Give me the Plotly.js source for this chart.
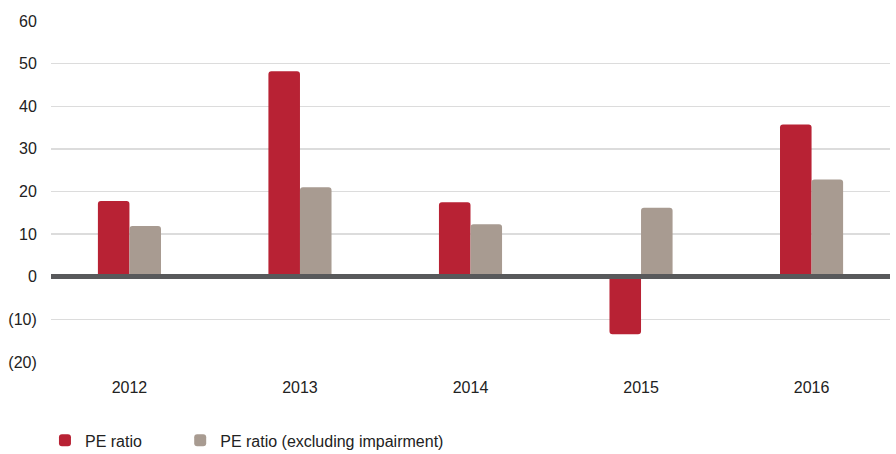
<!DOCTYPE html>
<html>
<head>
<meta charset="utf-8">
<script src="https://cdn.plot.ly/plotly-3.0.1.min.js"></script>
<style>html,body{margin:0;padding:0;background:#fff;}#chart{width:896px;height:454px;}</style>
</head>
<body>
<div id="chart"></div>
<script>
const years = ['2012', '2013', '2014', '2015', '2016'];
const peRatio = [17.8, 48.2, 17.5, -13.5, 35.7];
const peRatioExImpairment = [11.9, 21.0, 12.3, 16.2, 22.8];
const yTickVals = [-20, -10, 0, 10, 20, 30, 40, 50, 60];
const yTickText = ['(20)', '(10)', '0', '10', '20', '30', '40', '50', '60'];

const font = {family: 'Liberation Sans, Arial, Helvetica, sans-serif', size: 16, color: '#222222'};

const data = [
  {type: 'bar', name: 'PE ratio', x: years, y: peRatio,
   marker: {color: '#B82234'}, legend: 'legend'},
  {type: 'bar', name: 'PE ratio (excluding impairment)', x: years, y: peRatioExImpairment,
   marker: {color: '#A89B91'}, legend: 'legend2'}
];

const legendBase = {orientation: 'h', xanchor: 'left', y: -0.18, yanchor: 'top',
                    font: font, itemwidth: 30, bgcolor: 'rgba(0,0,0,0)'};

const layout = {
  width: 896, height: 454,
  margin: {l: 51, r: 6, t: 21, b: 92, autoexpand: false},
  paper_bgcolor: '#ffffff', plot_bgcolor: '#ffffff',
  font: font,
  barmode: 'group', bargap: 0.63, bargroupgap: 0,
  barcornerradius: 3,
  showlegend: true,
  legend: Object.assign({}, legendBase, {x: -0.0072}),
  legend2: Object.assign({}, legendBase, {x: 0.154}),
  xaxis: {type: 'category', range: [-0.46, 4.46], showgrid: false, zeroline: false,
          showline: false, ticks: 'outside', ticklen: 11, tickcolor: 'rgba(0,0,0,0)',
          tickfont: font, fixedrange: true},
  yaxis: {range: [-20, 60], tickvals: yTickVals, ticktext: yTickText,
          showgrid: true, gridcolor: '#DCDCDC', gridwidth: 1.5,
          zeroline: true, zerolinecolor: '#58595B', zerolinewidth: 5, zerolinelayer: 'above traces',
          showline: false, ticks: 'outside', ticklen: 10, tickcolor: 'rgba(0,0,0,0)',
          tickfont: font, fixedrange: true}
};

Plotly.newPlot('chart', data, layout, {displayModeBar: false, staticPlot: true});
</script>
</body>
</html>
